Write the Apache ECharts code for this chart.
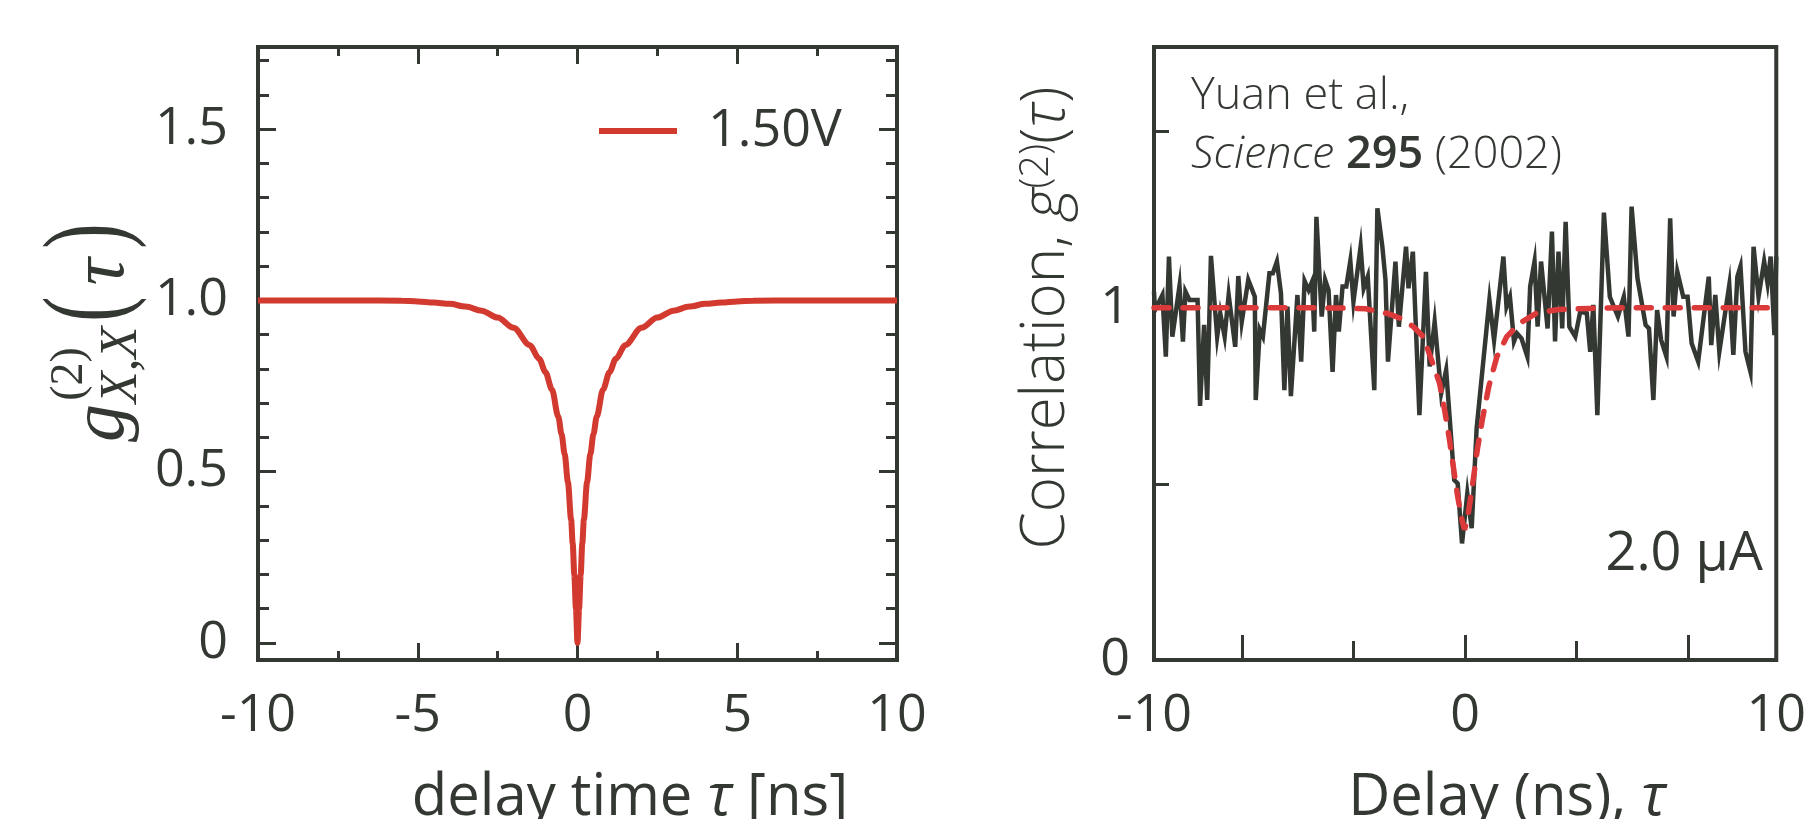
<!DOCTYPE html>
<html>
<head>
<meta charset="utf-8">
<title>g2 correlation</title>
<script src="https://cdn.jsdelivr.net/npm/echarts@6/dist/echarts.min.js"></script>
<style>
  html, body { margin: 0; padding: 0; background: #fff; }
  #main { width: 1809px; height: 819px; }
</style>
</head>
<body>
<div id="main"></div>
<script>
// left panel: model curve, 1.50V
const leftTau = [-10, -7, -5.5, -5, -4.5, -4, -3.5, -3, -2.5, -2, -1.5, -1.2, -1, -0.8, -0.6, -0.5, -0.4, -0.3, -0.2, -0.15, -0.1, -0.05, 0,
  0.05, 0.1, 0.15, 0.2, 0.3, 0.4, 0.5, 0.6, 0.8, 1, 1.2, 1.5, 2, 2.5, 3, 3.5, 4, 4.5, 5, 5.5, 7, 10]
const leftG2 = [1.0, 1.0, 0.999, 0.997, 0.994, 0.99, 0.982, 0.97, 0.95, 0.92, 0.87, 0.83, 0.79, 0.74, 0.66, 0.61, 0.55, 0.47, 0.36, 0.29, 0.2, 0.1, 0.0,
  0.1, 0.2, 0.29, 0.36, 0.47, 0.55, 0.61, 0.66, 0.74, 0.79, 0.83, 0.87, 0.92, 0.95, 0.97, 0.982, 0.99, 0.994, 0.997, 0.999, 1.0, 1.0]

// right panel: measured data (Yuan et al.)
const yuanTau = [-10.0, -9.97, -9.73, -9.62, -9.52, -9.41, -9.18, -9.07, -8.99, -8.86, -8.60, -8.52, -8.39, -8.29, -8.17, -7.97, -7.87, -7.73, -7.60, -7.39,
  -7.29, -7.18, -6.97, -6.76, -6.73, -6.60, -6.50, -6.29, -6.18, -6.05, -5.92, -5.81, -5.71, -5.60, -5.39, -5.27, -5.16, -5.03, -4.92, -4.85,
  -4.78, -4.61, -4.50, -4.39, -4.26, -4.15, -4.06, -3.94, -3.82, -3.69, -3.59, -3.36, -3.26, -3.13, -2.92, -2.82, -2.66, -2.56, -2.48, -2.24,
  -2.13, -1.90, -1.82, -1.68, -1.47, -1.26, -1.14, -0.98, -0.77, -0.61, -0.35, -0.24, -0.10, 0.07, 0.21, 0.37, 0.78, 0.93, 1.23, 1.33,
  1.44, 1.57, 1.67, 1.81, 2.00, 2.09, 2.23, 2.33, 2.44, 2.65, 2.79, 2.89, 3.00, 3.12, 3.23, 3.35, 3.54, 3.70, 3.91, 4.02,
  4.12, 4.25, 4.46, 4.65, 4.91, 5.10, 5.25, 5.35, 5.54, 5.80, 5.91, 6.05, 6.17, 6.30, 6.47, 6.59, 6.70, 6.82, 7.01, 7.15,
  7.28, 7.49, 7.83, 7.91, 8.04, 8.17, 8.49, 8.62, 8.75, 8.85, 9.01, 9.17, 9.27, 9.43, 9.61, 9.72, 9.82, 9.94, 10.0]
const yuanG2 = [1.046, 0.993, 1.036, 0.861, 1.145, 0.918, 1.062, 0.904, 1.046, 1.022, 1.022, 0.721, 0.951, 0.738, 1.147, 0.918, 0.984, 0.918, 1.036, 0.889,
  1.090, 0.960, 1.079, 1.031, 0.738, 0.937, 0.918, 1.098, 1.098, 1.131, 1.041, 0.766, 1.003, 0.749, 1.036, 0.847, 1.076, 1.050, 1.074, 0.932,
  1.258, 0.975, 1.079, 1.050, 0.818, 1.036, 0.932, 1.060, 1.060, 1.133, 1.017, 1.173, 1.055, 1.088, 0.766, 1.282, 1.173, 1.079, 0.847, 1.131,
  0.946, 1.173, 1.055, 1.159, 0.695, 1.102, 0.833, 0.960, 0.757, 0.823, 0.511, 0.501, 0.331, 0.473, 0.374, 0.658, 1.022, 0.908, 1.145, 1.003,
  1.031, 0.904, 0.927, 0.913, 0.861, 1.060, 1.131, 0.946, 1.131, 0.941, 1.216, 0.904, 1.159, 0.941, 1.244, 0.946, 0.918, 0.989, 0.984, 0.875,
  1.008, 0.695, 1.270, 1.031, 0.975, 1.031, 0.918, 1.287, 1.083, 0.951, 0.941, 0.738, 0.993, 0.908, 0.861, 1.254, 0.975, 1.102, 1.031, 1.031,
  0.899, 0.847, 1.088, 0.894, 1.036, 0.875, 1.064, 0.866, 1.088, 1.117, 0.875, 0.818, 1.173, 1.031, 1.131, 1.069, 1.145, 0.922, 1.145]

// right panel: fit (dashed)
const fitTau = [-10, -5, -4, -3.2, -2.5, -2.08, -1.66, -1.35, -1.08, -0.82, -0.66, -0.5, -0.38, -0.24, -0.1, -0.02,
  0.07, 0.23, 0.39, 0.55, 0.76, 1.02, 1.34, 1.76, 2.28, 3.0, 4.0, 5, 10]
const fitG2 = [1, 1, 0.999, 0.997, 0.984, 0.970, 0.946, 0.918, 0.852, 0.785, 0.710, 0.624, 0.549, 0.464, 0.397, 0.37,
  0.397, 0.492, 0.596, 0.681, 0.776, 0.861, 0.918, 0.956, 0.984, 0.995, 0.998, 1, 1]

// ticks
const leftXMajor = [-10, -5, 0, 5, 10]
const leftXMinor = [-7.5, -2.5, 2.5, 7.5]
const leftYMajor = [0, 0.5, 1.0, 1.5]
const leftYMinor = [0.1, 0.2, 0.3, 0.4, 0.6, 0.7, 0.8, 0.9, 1.1, 1.2, 1.3, 1.4, 1.6, 1.7]
const rightXLabels = [-10, 0, 10]
const rightXLong = [-7.16, 0, 7.16]
const rightXShort = [-3.58, 3.58]
const rightYLabels = [0, 1]
const rightYTicks = [0.5, 1, 1.5]

const FG = '#343833'
const RED = '#d23a30'
const SANS = '"Open Sans", "Noto Sans", sans-serif'
const SERIF = '"Liberation Serif", serif'

const pairs = (xs, ys) => xs.map((x, i) => [x, ys[i]])

function axis (gridIndex, position, min, max, ticks, tickLen, labels, margin, fmt) {
  return {
    type: 'value',
    gridIndex: gridIndex,
    position: position,
    min: min,
    max: max,
    z: 3,
    axisLine: { show: false, onZero: false },
    splitLine: { show: false },
    axisTick: {
      show: true,
      inside: true,
      length: tickLen,
      customValues: ticks,
      lineStyle: { color: FG, width: 3 }
    },
    axisLabel: labels
      ? {
          show: true,
          customValues: labels,
          margin: margin,
          color: FG,
          fontSize: 52,
          fontFamily: SANS,
          formatter: fmt
        }
      : { show: false }
  }
}

const fmtLeftY = (v) => (v === 0 ? '0' : v.toFixed(1))
const fmtInt = (v) => String(Math.round(v))

// horizontal text, y given as baseline
function label (x, baseline, size, text, opt) {
  opt = opt || {}
  return {
    type: 'text',
    x: x,
    y: baseline - 0.35 * size,
    z: 10,
    style: {
      text: text,
      fontSize: size,
      fontFamily: opt.family || SANS,
      fontStyle: opt.italic ? 'italic' : 'normal',
      fontWeight: opt.weight || 'normal',
      fill: opt.color || FG,
      align: opt.align || 'left',
      verticalAlign: 'middle',
      rich: opt.rich
    }
  }
}

// vertical text (reads bottom to top), centred on (x, y)
function vlabel (x, y, size, text, opt) {
  opt = opt || {}
  return {
    type: 'text',
    x: x,
    y: y,
    rotation: Math.PI / 2,
    scaleY: opt.stretch || 1,
    z: 10,
    style: {
      text: text,
      fontSize: size,
      fontFamily: opt.family || SANS,
      fontStyle: opt.italic ? 'italic' : 'normal',
      fontWeight: opt.weight || 'normal',
      fill: FG,
      align: 'center',
      verticalAlign: 'middle',
      rich: opt.rich
    }
  }
}

const chart = echarts.init(document.getElementById('main'))

const option = {
  animation: false,
  backgroundColor: '#fff',
  grid: [
    { left: 258, top: 47, width: 639, height: 613, show: true, borderWidth: 4, borderColor: FG, backgroundColor: 'transparent' },
    { left: 1154, top: 47, width: 634, height: 613, show: true, borderWidth: 4, borderColor: FG, backgroundColor: 'transparent' }
  ],
  xAxis: [
    axis(0, 'bottom', -10, 10, leftXMajor, 17, leftXMajor, 30, fmtInt),
    axis(0, 'bottom', -10, 10, leftXMinor, 9),
    axis(0, 'top', -10, 10, leftXMajor, 17),
    axis(0, 'top', -10, 10, leftXMinor, 9),
    axis(1, 'bottom', -10, 10, rightXLong, 25, rightXLabels, 30, fmtInt),
    axis(1, 'bottom', -10, 10, rightXShort, 19)
  ],
  yAxis: [
    axis(0, 'left', -0.05, 1.74, leftYMajor, 18, leftYMajor, 30, fmtLeftY),
    axis(0, 'left', -0.05, 1.74, leftYMinor, 11),
    axis(0, 'right', -0.05, 1.74, leftYMajor, 18),
    axis(0, 'right', -0.05, 1.74, leftYMinor, 11),
    axis(1, 'left', 0, 1.74, rightYTicks, 15, rightYLabels, 24, fmtInt)
  ],
  legend: {
    data: [{ name: '1.50V', icon: 'rect' }],
    left: 594,
    top: 100,
    itemWidth: 78,
    itemHeight: 6,
    selectedMode: false,
    textStyle: { color: FG, fontSize: 52, fontFamily: SANS, padding: [0, 0, 0, 26] }
  },
  series: [
    {
      name: '1.50V',
      type: 'line',
      xAxisIndex: 0,
      yAxisIndex: 0,
      data: pairs(leftTau, leftG2),
      showSymbol: false,
      smooth: 0.3,
      smoothMonotone: 'x',
      color: RED,
      lineStyle: { color: RED, width: 6 }
    },
    {
      name: 'Yuan',
      type: 'line',
      xAxisIndex: 4,
      yAxisIndex: 4,
      data: pairs(yuanTau, yuanG2),
      showSymbol: false,
      lineStyle: { color: FG, width: 4.5, join: 'miter' }
    },
    {
      name: 'fit',
      type: 'line',
      xAxisIndex: 4,
      yAxisIndex: 4,
      data: pairs(fitTau, fitG2),
      showSymbol: false,
      z: 4,
      lineStyle: { color: '#dc3a3a', width: 5.5, type: [15, 14], cap: 'round' }
    }
  ],
  graphic: [
    // left y title, g^(2)_{X,X}(tau)
    vlabel(103, 423, 76, 'g', { family: SERIF, italic: true }),
    vlabel(122, 365, 52, 'X,X', { family: SERIF, italic: true }),
    vlabel(70, 374, 46, '(2)', { family: SERIF }),
    vlabel(92, 309, 76, '(', { family: SERIF, stretch: 1.5 }),
    vlabel(103, 272, 76, 'τ', { family: SERIF, italic: true }),
    vlabel(92, 236, 76, ')', { family: SERIF, stretch: 1.5 }),
    // right y title
    vlabel(1047, 318, 60, 'Correlation, {i|g}{s|(2)}({i|τ})', {
      weight: 300,
      rich: {
        i: { fontStyle: 'italic', fontFamily: SANS, fontSize: 60, fontWeight: 300 },
        s: { fontFamily: SANS, fontSize: 40, verticalAlign: 'top', fontWeight: 300 }
      }
    }),
    // x titles
    label(630, 819, 58, 'delay time {i|τ} [ns]', {
      align: 'center',
      rich: { i: { fontStyle: 'italic', fontFamily: SANS, fontSize: 58 } }
    }),
    label(1507, 819, 58, 'Delay (ns), {i|τ}', {
      align: 'center',
      rich: { i: { fontStyle: 'italic', fontFamily: SANS, fontSize: 58 } }
    }),
    // annotations in right panel
    label(1191, 112, 45, 'Yuan et al.,', { weight: 300 }),
    label(1191, 171, 45, '{i|Science} {b|295} (2002)', {
      weight: 300,
      rich: {
        i: { fontStyle: 'italic', fontFamily: SANS, fontSize: 45, fontWeight: 300 },
        b: { fontWeight: 600, fontFamily: SANS, fontSize: 45, color: '#000' }
      }
    }),
    label(1763, 574, 54, '2.0 μA', { align: 'right' })
  ]
}

chart.setOption(option)
</script>
</body>
</html>
